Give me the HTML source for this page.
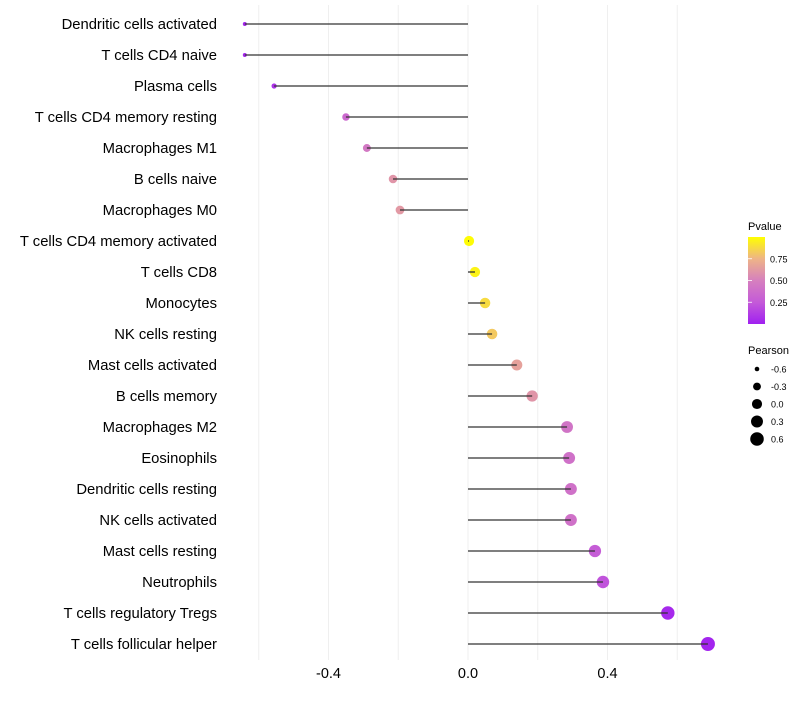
<!DOCTYPE html>
<html><head><meta charset="utf-8"><style>
body{margin:0;background:#fff;font-family:"Liberation Sans",sans-serif}
</style></head><body>
<svg id="chart" width="800" height="700" xmlns="http://www.w3.org/2000/svg"></svg>
<script>
const categories=["Dendritic cells activated","T cells CD4 naive","Plasma cells","T cells CD4 memory resting","Macrophages M1","B cells naive","Macrophages M0","T cells CD4 memory activated","T cells CD8","Monocytes","NK cells resting","Mast cells activated","B cells memory","Macrophages M2","Eosinophils","Dendritic cells resting","NK cells activated","Mast cells resting","Neutrophils","T cells regulatory  Tregs","T cells follicular helper"];
const pearson=[-0.64,-0.64,-0.556,-0.35,-0.29,-0.215,-0.195,0.003,0.02,0.049,0.069,0.14,0.184,0.284,0.29,0.295,0.295,0.364,0.387,0.573,0.688];
const pvalue=[0.03,0.03,0.08,0.35,0.45,0.6,0.62,0.99,0.96,0.88,0.82,0.66,0.6,0.42,0.4,0.4,0.4,0.27,0.22,0.04,0.02];
const xTicks=[-0.4,0,0.4];
const xTickLabels=["-0.4","0.0","0.4"];
const gridVals=[-0.6,-0.4,-0.2,0,0.2,0.4,0.6];
const legendPearson=[-0.6,-0.3,0,0.3,0.6];
const legendPearsonLabels=["-0.6","-0.3","0.0","0.3","0.6"];
const pTicks=[0.25,0.5,0.75];
const pTickLabels=["0.25","0.50","0.75"];

const svg=document.getElementById('chart');
const NS="http://www.w3.org/2000/svg";
const x=v=>468+v*348.75;
const y=i=>24+i*31;
const r=v=>Math.sqrt(Math.max(2,25.6+33.8*v));
const stops=[[0,[160,32,240]],[0.25,[196,90,216]],[0.5,[214,128,190]],[0.75,[238,180,135]],[1,[255,255,0]]];
function col(p){for(let k=0;k<stops.length-1;k++){const[a,ca]=stops[k],[b,cb]=stops[k+1];if(p<=b){const t=(p-a)/(b-a);return`rgb(${ca.map((c,j)=>Math.round(c+(cb[j]-c)*t)).join(',')})`;}}return'rgb(255,255,0)';}
function el(t,a,txt){const e=document.createElementNS(NS,t);for(const k in a)e.setAttribute(k,a[k]);if(txt!=null)e.textContent=txt;svg.appendChild(e);return e;}

gridVals.forEach(v=>{const g=el('line',{x1:x(v),x2:x(v),y1:5,y2:660,stroke:'#efefef','stroke-width':1});

});

categories.forEach((c,i)=>{
 const t=el('text',{x:217,y:y(i)+5,'text-anchor':'end','font-size':14.8,fill:'#000'},c);
 
 
 const d=el('circle',{cx:x(pearson[i]),cy:y(i),r:r(pearson[i]),fill:col(pvalue[i])});
 
 
 const s=el('line',{x1:x(0),x2:x(pearson[i]),y1:y(i),y2:y(i),stroke:'#333','stroke-width':1.3});
 
 
});

xTicks.forEach((v,i)=>{const t=el('text',{x:x(v),y:678,'text-anchor':'middle','font-size':14.5,fill:'#000'},xTickLabels[i]);

});

const lt=el('text',{x:748,y:230,'font-size':11,fill:'#000'},'Pvalue');


const defs=el('defs',{});
const lg=document.createElementNS(NS,'linearGradient');lg.setAttribute('id','pg');lg.setAttribute('x1','0');lg.setAttribute('y1','1');lg.setAttribute('x2','0');lg.setAttribute('y2','0');
stops.forEach(([o,c])=>{const s=document.createElementNS(NS,'stop');s.setAttribute('offset',o);s.setAttribute('stop-color',`rgb(${c.join(',')})`);lg.appendChild(s);});
defs.appendChild(lg);
const cb=el('rect',{x:748,y:237,width:17,height:87,fill:'url(#pg)'});


const cy=p=>324-p*87;
pTicks.forEach((p,i)=>{
 const tk=el('line',{x1:748,x2:752,y1:cy(p),y2:cy(p),stroke:'#fff','stroke-width':0.8});
 
 
 const t=el('text',{x:770,y:cy(p)+3.5,'font-size':9,fill:'#000'},pTickLabels[i]);
 
 
});
const pt=el('text',{x:748,y:354,'font-size':11,fill:'#000'},'Pearson');


legendPearson.forEach((v,i)=>{
 const yy=369+i*17.5;
 const c=el('circle',{cx:757,cy:yy,r:r(v),fill:'#000'});
 
 
 const t=el('text',{x:771,y:yy+3.5,'font-size':9,fill:'#000'},legendPearsonLabels[i]);
 
 
});
</script>
</body></html>
